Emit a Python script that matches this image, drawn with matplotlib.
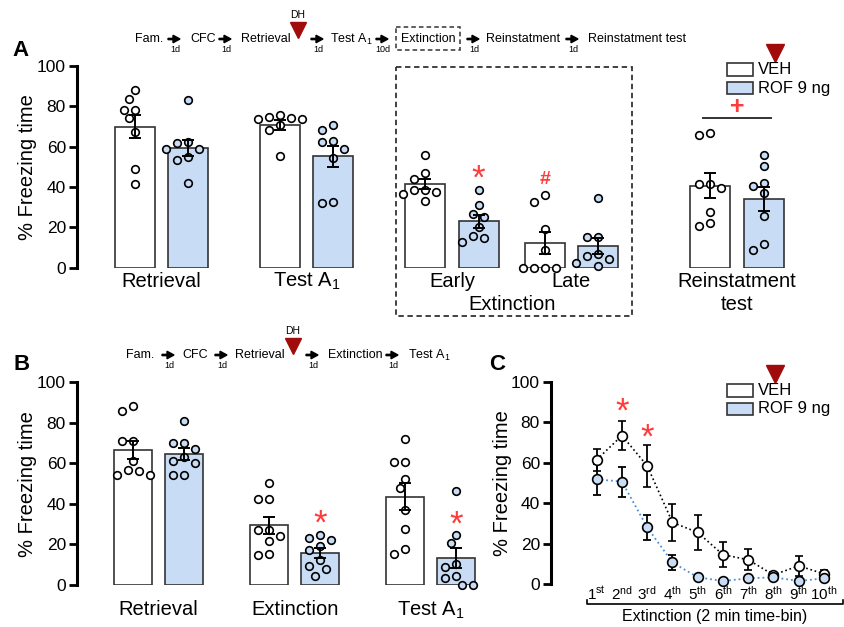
import matplotlib.pyplot as plt
from matplotlib.patches import Rectangle
import numpy as np

plt.rcParams['font.family'] = ['Liberation Sans', 'DejaVu Sans']
plt.rcParams['mathtext.fontset'] = 'custom'
plt.rcParams['mathtext.rm'] = 'Liberation Sans'
plt.rcParams['mathtext.it'] = 'Liberation Sans:italic'
plt.rcParams['mathtext.bf'] = 'Liberation Sans:bold'

ROF_COLOR = '#c8ddf5'
EDGE = '#333333'
RED = '#ff3b3b'
DARK_RED = '#a00c0c'

# ---- data ----
# panel A (n = 8 per group)
a_groups = ['Retrieval', 'Test A$_1$', 'Early', 'Late', 'Reinstatment']
a_veh = [
    [88, 83.5, 78, 78, 74, 67, 49, 41.5],
    [75.5, 74.5, 74, 73.5, 73.5, 70.5, 68, 55.5],
    [56, 47, 44, 38.5, 38.5, 37.5, 36.5, 33],
    [36, 32.5, 19, 9, 0, 0, 0, 0],
    [66.5, 65.5, 41.5, 41.5, 39.5, 27.5, 22, 20.5],
]
a_rof = [
    [83, 62, 61.5, 59, 59, 55, 53.5, 42],
    [70.5, 68, 62.5, 62, 59, 54.5, 32.5, 32],
    [38.5, 31, 26.5, 25, 20, 15.5, 14.5, 12.5],
    [34.5, 15, 15, 7, 6, 4.5, 2.5, 1],
    [56, 50.5, 42, 40.5, 37, 25.5, 11.5, 9],
]

# panel B (n = 9 per group)
b_groups = ['Retrieval', 'Extinction', 'Test A$_1$']
b_veh = [
    [88.5, 86, 71, 71, 61, 56.5, 56, 54.5, 54.5],
    [50.5, 42.5, 42.5, 27, 27, 24, 21.5, 15.5, 15],
    [72, 60.5, 60.5, 52.5, 48, 37, 27.5, 18, 15.5],
]
b_rof = [
    [81, 70, 70, 67, 63, 61, 60, 54.5, 54.5],
    [24.5, 23, 22, 19, 17.5, 12.5, 9.5, 8, 4.5],
    [46.5, 24.5, 20.5, 10.5, 9, 4.5, 3.5, 0, 0],
]

# panel C (2 min time bins of extinction session)
c_bins = ['1$^{\\mathrm{st}}$', '2$^{\\mathrm{nd}}$', '3$^{\\mathrm{rd}}$', '4$^{\\mathrm{th}}$',
          '5$^{\\mathrm{th}}$', '6$^{\\mathrm{th}}$', '7$^{\\mathrm{th}}$', '8$^{\\mathrm{th}}$',
          '9$^{\\mathrm{th}}$', '10$^{\\mathrm{th}}$']
c_veh_mean = [61.5, 73.5, 58.5, 30.5, 25.5, 14.5, 12, 4.5, 9, 5]
c_veh_sem = [5.5, 7, 10.5, 9.2, 8.7, 6.3, 5.3, 1.5, 5, 1.7]
c_rof_mean = [51.8, 50.7, 28, 10.7, 3.3, 1.5, 2.8, 3.3, 1.5, 2.8]
c_rof_sem = [7.8, 7.4, 6.4, 3.7, 0.8, 0.6, 0.8, 0.8, 0.6, 0.8]


def swarm_x(vals, center, px_x, px_y, step=5.5, diam=9.5):
    # simple deterministic beeswarm in pixel space
    placed = []
    xs = []
    for v in vals:
        yp = v * px_y
        for k in [0, -1, 1, -2, 2, -3, 3, -4, 4, -5, 5]:
            xp = k * step
            if all((xp - a) ** 2 + (yp - b) ** 2 >= diam ** 2 for a, b in placed):
                break
        placed.append((xp, yp))
        xs.append(center + xp / px_x)
    return xs


def style_axis(ax):
    ax.set_ylim(0, 100)
    ax.set_yticks([0, 20, 40, 60, 80, 100])
    ax.set_xticks([])
    for s in ['top', 'right', 'bottom']:
        ax.spines[s].set_visible(False)
    ax.spines['left'].set_linewidth(2.2)
    ax.tick_params(axis='y', length=6, width=2, labelsize=12.5, pad=2)
    ax.patch.set_alpha(0)


def bar_panel(ax, centers, veh, rof, px_x, px_y, sep):
    for c, v, r in zip(centers, veh, rof):
        for x, vals, fc in [(c - sep, v, 'white'), (c + sep, r, ROF_COLOR)]:
            vals = np.array(vals, dtype=float)
            m = vals.mean()
            sem = vals.std(ddof=1) / np.sqrt(len(vals))
            ax.bar(x, m, width=1.0, color=fc, edgecolor=EDGE, linewidth=1.2, zorder=1)
            xs = swarm_x(vals, x, px_x, px_y)
            ax.scatter(xs, vals, s=30, facecolor=fc, edgecolor='black', linewidth=1.2,
                       zorder=3, clip_on=False)
            ax.errorbar(x, m, yerr=sem, color='black', capsize=4.5, elinewidth=1.4,
                        capthick=1.4, zorder=4, clip_on=False)


fig = plt.figure(figsize=(8.45, 6.27), dpi=100)
W, H = 845.0, 627.0


def px_axes(left, right, y0, y100):
    return fig.add_axes([left / W, 1 - y0 / H, (right - left) / W, (y0 - y100) / H])


# ---- panel A ----
axA = px_axes(77, 800, 267.7, 65.7)
style_axis(axA)
a_centers = [2.11, 5.74, 9.375, 12.36, 16.5]
axA.set_xlim(0, 723 / 40)
bar_panel(axA, a_centers, a_veh, a_rof, 40, 2.02, 0.665)
for c, lab in zip(a_centers, a_groups):
    axA.text(c, -7, lab, ha='center', va='center', fontsize=14.5, clip_on=False)
axA.text((a_centers[2] + a_centers[3]) / 2, -18, 'Extinction', ha='center', va='center',
         fontsize=14.5)
axA.text(a_centers[4], -18, 'test', ha='center', va='center', fontsize=14.5)
axA.text(a_centers[2] + 0.665, 44, '*', ha='center', va='center', color=RED, fontsize=25)
axA.text(a_centers[3] - 0.665, 43.5, '#', ha='center', va='center', color=RED,
         fontsize=14, fontweight='bold')
axA.plot([a_centers[4] - 0.85, a_centers[4] + 0.85], [74, 74], color=EDGE, lw=1.4)
axA.text(a_centers[4], 79.5, '+', ha='center', va='center', color=RED, fontsize=18,
         fontweight='bold')

# ---- panel B ----
axB = px_axes(77, 490, 585, 382.3)
style_axis(axB)
b_centers = [2.145, 5.73, 9.31]
axB.set_xlim(0, 413 / 38)
bar_panel(axB, b_centers, b_veh, b_rof, 38, 2.027, 0.67)
for c, lab in zip(b_centers, b_groups):
    axB.text(c, -12.3, lab, ha='center', va='center', fontsize=14.5, clip_on=False)
axB.text(b_centers[1] + 0.67, 30, '*', ha='center', va='center', color=RED, fontsize=25)
axB.text(b_centers[2] + 0.67, 29.5, '*', ha='center', va='center', color=RED, fontsize=25)

# ---- panel C ----
axC = px_axes(551, 843, 584, 382)
style_axis(axC)
xb = np.arange(1, len(c_bins) + 1)
axC.set_xlim(1 - 45.7 / 25.26, 10 + 19 / 25.26)
axC.errorbar(xb, c_veh_mean, yerr=c_veh_sem, fmt='o', ls=':', color='black', lw=1.2,
             mfc='white', mec='black', mew=1.2, ms=7, capsize=3, elinewidth=1.3,
             capthick=1.3, zorder=3, clip_on=False)
axC.errorbar(xb, c_rof_mean, yerr=c_rof_sem, fmt='none', ecolor='black', capsize=3,
             elinewidth=1.3, capthick=1.3, zorder=2, clip_on=False)
axC.plot(xb, c_rof_mean, ls=':', color='#4a90d9', lw=1.3, marker='o', ms=7,
         mfc=ROF_COLOR, mec='black', mew=1.2, zorder=4, clip_on=False)
for x, lab in zip(xb, c_bins):
    axC.text(x, -5, lab, ha='center', va='center', fontsize=11, clip_on=False)
axC.text(2, 85, '*', ha='center', va='center', color=RED, fontsize=25)
axC.text(3, 72, '*', ha='center', va='center', color=RED, fontsize=25)

# ---- overlay for annotations in pixel coordinates ----
ov = fig.add_axes([0, 0, 1, 1])
ov.set_xlim(0, W)
ov.set_ylim(H, 0)
ov.axis('off')

ov.text(21, 50, 'A', fontsize=16, fontweight='bold', ha='center', va='center')
ov.text(22, 365, 'B', fontsize=16, fontweight='bold', ha='center', va='center')
ov.text(497, 365, 'C', fontsize=16, fontweight='bold', ha='center', va='center')

for x, y in [(28, 167), (28, 484), (503, 483)]:
    ov.text(x, y, '% Freezing time', rotation=90, ha='center', va='center', fontsize=14.5)


def timeline(y, words, arrows, dh_x):
    for txt, x in words:
        ov.text(x, y, txt, ha='left', va='center', fontsize=9)
    for x0, x1, lab in arrows:
        ov.arrow(x0, y, x1 - x0, 0, width=1.3, head_width=7.5, head_length=7,
                 length_includes_head=True, color='black')
        ov.text((x0 + x1) / 2 + 1, y + 10, lab, ha='center', va='center', fontsize=6.5)
    ov.plot(dh_x, y - 9, marker='v', ms=11, color=DARK_RED, mec=DARK_RED)
    ov.text(dh_x, y - 24, 'DH', ha='center', va='center', fontsize=7.5)


timeline(39, [('Fam.', 135), ('CFC', 190), ('Retrieval', 241), ('Test A$_1$', 330),
              ('Extinction', 401), ('Reinstatment', 486), ('Reinstatment test', 588)],
         [(168, 180, '1d'), (219, 231, '1d'), (311, 323, '1d'), (376, 388, '10d'),
          (467, 479, '1d'), (566, 578, '1d')], 298)
ov.add_patch(Rectangle((396, 27), 64, 23, fill=False, ls=(0, (3, 2)), lw=1.1, ec=EDGE))
ov.add_patch(Rectangle((396, 67), 236, 249, fill=False, ls=(0, (3, 2)), lw=1.3, ec=EDGE))

timeline(355, [('Fam.', 126), ('CFC', 182), ('Retrieval', 235), ('Extinction', 328),
               ('Test A$_1$', 408)],
         [(162, 174, '1d'), (215, 227, '1d'), (306, 318, '1d'), (386, 398, '1d')], 293)


def legend(x, y):
    ov.plot(x + 48, y - 16, marker='v', ms=13, color=DARK_RED, mec=DARK_RED)
    ov.add_patch(Rectangle((x, y - 6), 26, 13, fc='white', ec=EDGE, lw=1.2))
    ov.add_patch(Rectangle((x, y + 13), 26, 12, fc=ROF_COLOR, ec=EDGE, lw=1.2))
    ov.text(x + 31, y + 0.5, 'VEH', ha='left', va='center', fontsize=12)
    ov.text(x + 31, y + 19, 'ROF 9 ng', ha='left', va='center', fontsize=12)


legend(727, 69)
legend(727, 390)

# bracket under panel C time bins
ov.plot([587, 587, 843, 843], [600, 604, 604, 600], color='black', lw=1.2)
ov.text(715, 617, 'Extinction (2 min time-bin)', ha='center', va='center', fontsize=11.5)

fig.savefig('out.png', dpi=100)
